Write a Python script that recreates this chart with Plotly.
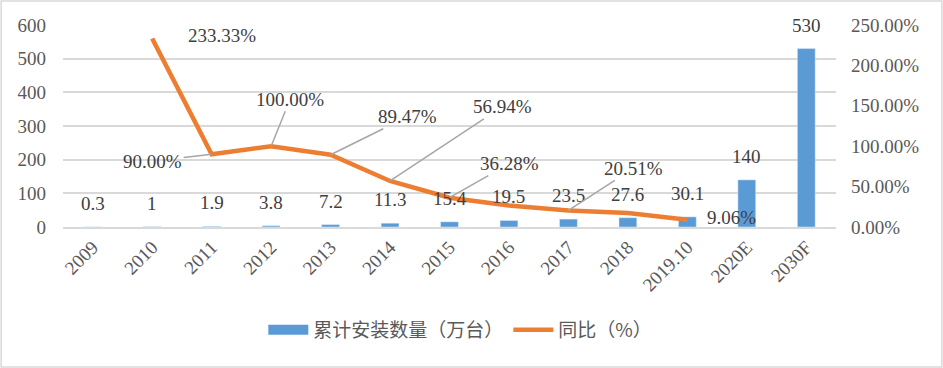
import plotly.graph_objects as go

categories = ["2009", "2010", "2011", "2012", "2013", "2014", "2015", "2016",
              "2017", "2018", "2019.10", "2020E", "2030F"]
installed = [0.3, 1, 1.9, 3.8, 7.2, 11.3, 15.4, 19.5, 23.5, 27.6, 30.1, 140, 530]
installed_labels = ["0.3", "1", "1.9", "3.8", "7.2", "11.3", "15.4", "19.5",
                    "23.5", "27.6", "30.1", "140", "530"]
yoy_categories = ["2010", "2011", "2012", "2013", "2014", "2015", "2016",
                  "2017", "2018", "2019.10"]
yoy = [233.33, 90.00, 100.00, 89.47, 56.94, 36.28, 26.62, 20.51, 17.45, 9.06]
yoy_labels = ["233.33%", "90.00%", "100.00%", "89.47%", "56.94%", "36.28%",
              None, "20.51%", None, "9.06%"]
left_ticks = [0, 100, 200, 300, 400, 500, 600]
right_ticks = [0, 50, 100, 150, 200, 250]
right_tick_text = ["0.00%", "50.00%", "100.00%", "150.00%", "200.00%", "250.00%"]

SERIF = "Liberation Serif, Times New Roman, serif"
CJK = "Noto Sans CJK SC, sans-serif"
TXT = "#404040"
BLUE = "#5B9BD5"
ORANGE = "#ED7D31"

fig = go.Figure()
fig.add_trace(go.Bar(
    x=categories, y=installed, name="累计安装数量（万台）",
    marker_color=BLUE, yaxis="y", showlegend=False,
))
# legend entry with a wide rectangular swatch
fig.add_trace(go.Scatter(
    x=[None], y=[None], name="累计安装数量（万台）", mode="lines",
    line=dict(color=BLUE, width=14), yaxis="y",
))
fig.add_trace(go.Scatter(
    x=yoy_categories, y=yoy, name="同比（%）", mode="lines",
    line=dict(color=ORANGE, width=4.5), yaxis="y2",
))

annotations = []
for c, v, t in zip(categories, installed, installed_labels):
    annotations.append(dict(x=categories.index(c), y=v, xref="x", yref="y", text=t,
                            showarrow=False, yanchor="bottom", yshift=11,
                            font=dict(family=SERIF, size=19, color=TXT)))

# label offsets (pixels) for line labels; arrow = leader line
offsets = {
    "2010": (70, -3, False),
    "2011": (-59, 7, True),
    "2012": (19, -47, True),
    "2013": (77, -38, True),
    "2014": (112, -74, True),
    "2015": (60, -34, True),
    "2017": (65, -42, True),
    "2019.10": (44, -2, False),
}
for c, v, t in zip(yoy_categories, yoy, yoy_labels):
    if t is None:
        continue
    dx, dy, arrow = offsets[c]
    xi = categories.index(c)
    if arrow:
        annotations.append(dict(x=xi, y=v, xref="x", yref="y2", text=t,
                                showarrow=True, arrowhead=0, arrowwidth=1.5,
                                arrowcolor="#A6A6A6", ax=dx, ay=dy, standoff=0,
                                font=dict(family=SERIF, size=19, color=TXT)))
    else:
        annotations.append(dict(x=xi, y=v, xref="x", yref="y2", text=t,
                                showarrow=False, xshift=dx, yshift=-dy,
                                font=dict(family=SERIF, size=19, color=TXT)))

fig.update_layout(
    width=943, height=368,
    margin=dict(l=63, r=107, t=25, b=141),
    paper_bgcolor="white", plot_bgcolor="white",
    bargap=0.7,
    showlegend=True,
    legend=dict(orientation="h", x=0.514, y=-0.51, xanchor="center",
                yanchor="middle", font=dict(family=CJK, size=19, color="#595959"),
                itemwidth=40),
    xaxis=dict(type="category", categoryorder="array", categoryarray=categories,
               range=[-0.5, len(categories) - 0.5],
               tickangle=-45, tickfont=dict(family=SERIF, size=19, color="#595959"),
               showgrid=False, showline=True, linecolor="#D9D9D9", linewidth=1.5,
               ticks=""),
    yaxis=dict(range=[0, 600], tickvals=left_ticks,
               tickfont=dict(family=SERIF, size=19, color="#595959"),
               showgrid=True, gridcolor="#D9D9D9", gridwidth=1.5,
               zeroline=False, showline=False, ticks="", ticklabelstandoff=16),
    yaxis2=dict(range=[0, 250], tickvals=right_ticks, ticktext=right_tick_text,
                overlaying="y", side="right", showgrid=False, zeroline=False,
                tickfont=dict(family=SERIF, size=19, color="#595959"), ticks="",
                ticklabelstandoff=14),
    annotations=annotations,
    shapes=[dict(type="rect", xref="paper", yref="paper",
                 x0=-0.080, x1=1.137, y0=-0.693, y1=1.119,
                 line=dict(color="#D9D9D9", width=1.5))],
)

fig.write_html("out.html", config={"displayModeBar": False},
               post_script="document.body.style.margin='0';document.body.style.padding='0';")
